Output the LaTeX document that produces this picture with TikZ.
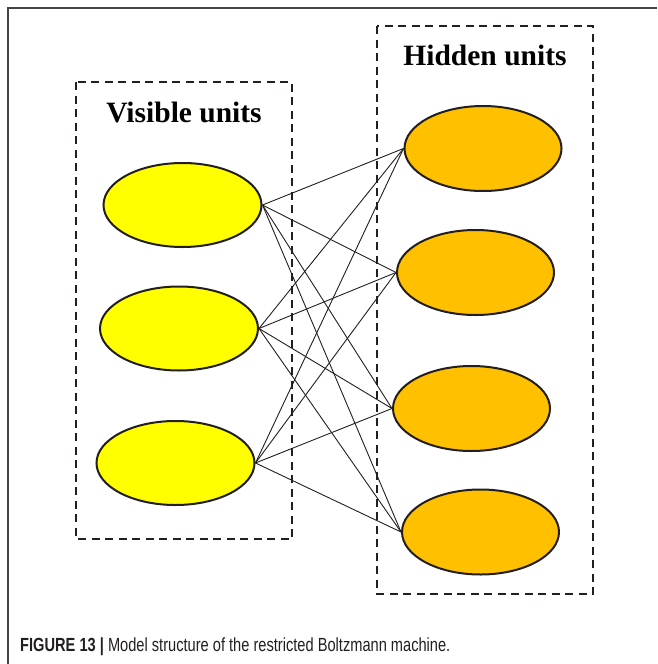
\documentclass[tikz,border=0pt]{standalone}
\usepackage{fontspec}
\setmainfont{Liberation Serif}
\newfontfamily\capfont{Liberation Sans}
\usetikzlibrary{shapes.geometric}
\definecolor{edgedark}{HTML}{231F20}
\definecolor{visyellow}{HTML}{FFFF00}
\definecolor{hidorange}{HTML}{FFC000}
\definecolor{framegray}{HTML}{444444}
\definecolor{captext}{HTML}{231F20}
\tikzset{
  unitv/.style={ellipse, draw=edgedark, line width=2pt, fill=visyellow, minimum width=158pt, minimum height=84pt, inner sep=0pt},
  unith/.style={ellipse, draw=edgedark, line width=2pt, fill=hidorange, minimum width=157pt, minimum height=85pt, inner sep=0pt},
  groupbox/.style={draw=edgedark, line width=2.2pt, dash pattern=on 8pt off 5.5pt},
  wire/.style={draw=edgedark, line width=0.9pt},
  title/.style={font=\fontsize{29.5}{32}\selectfont\bfseries, text=black, anchor=base, inner sep=0pt},
}
\begin{document}
\begin{tikzpicture}[x=1pt,y=-1pt]
\useasboundingbox (0,0) rectangle (657,664);
% frame
\draw[framegray, line width=1.2pt] (8,664) -- (8,8) -- (657,8);
% group boxes
\draw[groupbox] (76,82) rectangle (292,539);
\draw[groupbox] (377,26) rectangle (593,594);
% titles
\node[title] (tv) at (184,122) {Visible units};
\node[title] (th) at (485,65) {Hidden units};
% ellipses
\node[unitv] (v1) at (182.5,205) {};
\node[unitv] (v2) at (179,328.5) {};
\node[unitv] (v3) at (175.5,463) {};
\node[unith] (h1) at (483,148.5) {};
\node[unith] (h2) at (475.5,272.5) {};
\node[unith] (h3) at (471.5,408.5) {};
\node[unith] (h4) at (480.5,532) {};
% connections
\foreach \v in {v1,v2,v3}{
  \foreach \h in {h1,h2,h3,h4}{
    \draw[wire] (\v.east) -- (\h.west);
  }
}
% caption
\node[anchor=base west, inner sep=0pt, text=captext] (cap) at (20,651)
  {\scalebox{0.77}[1]{\capfont\fontsize{19}{21}\selectfont\textbf{FIGURE 13 |} Model structure of the restricted Boltzmann machine.}};
\end{tikzpicture}
\end{document}
